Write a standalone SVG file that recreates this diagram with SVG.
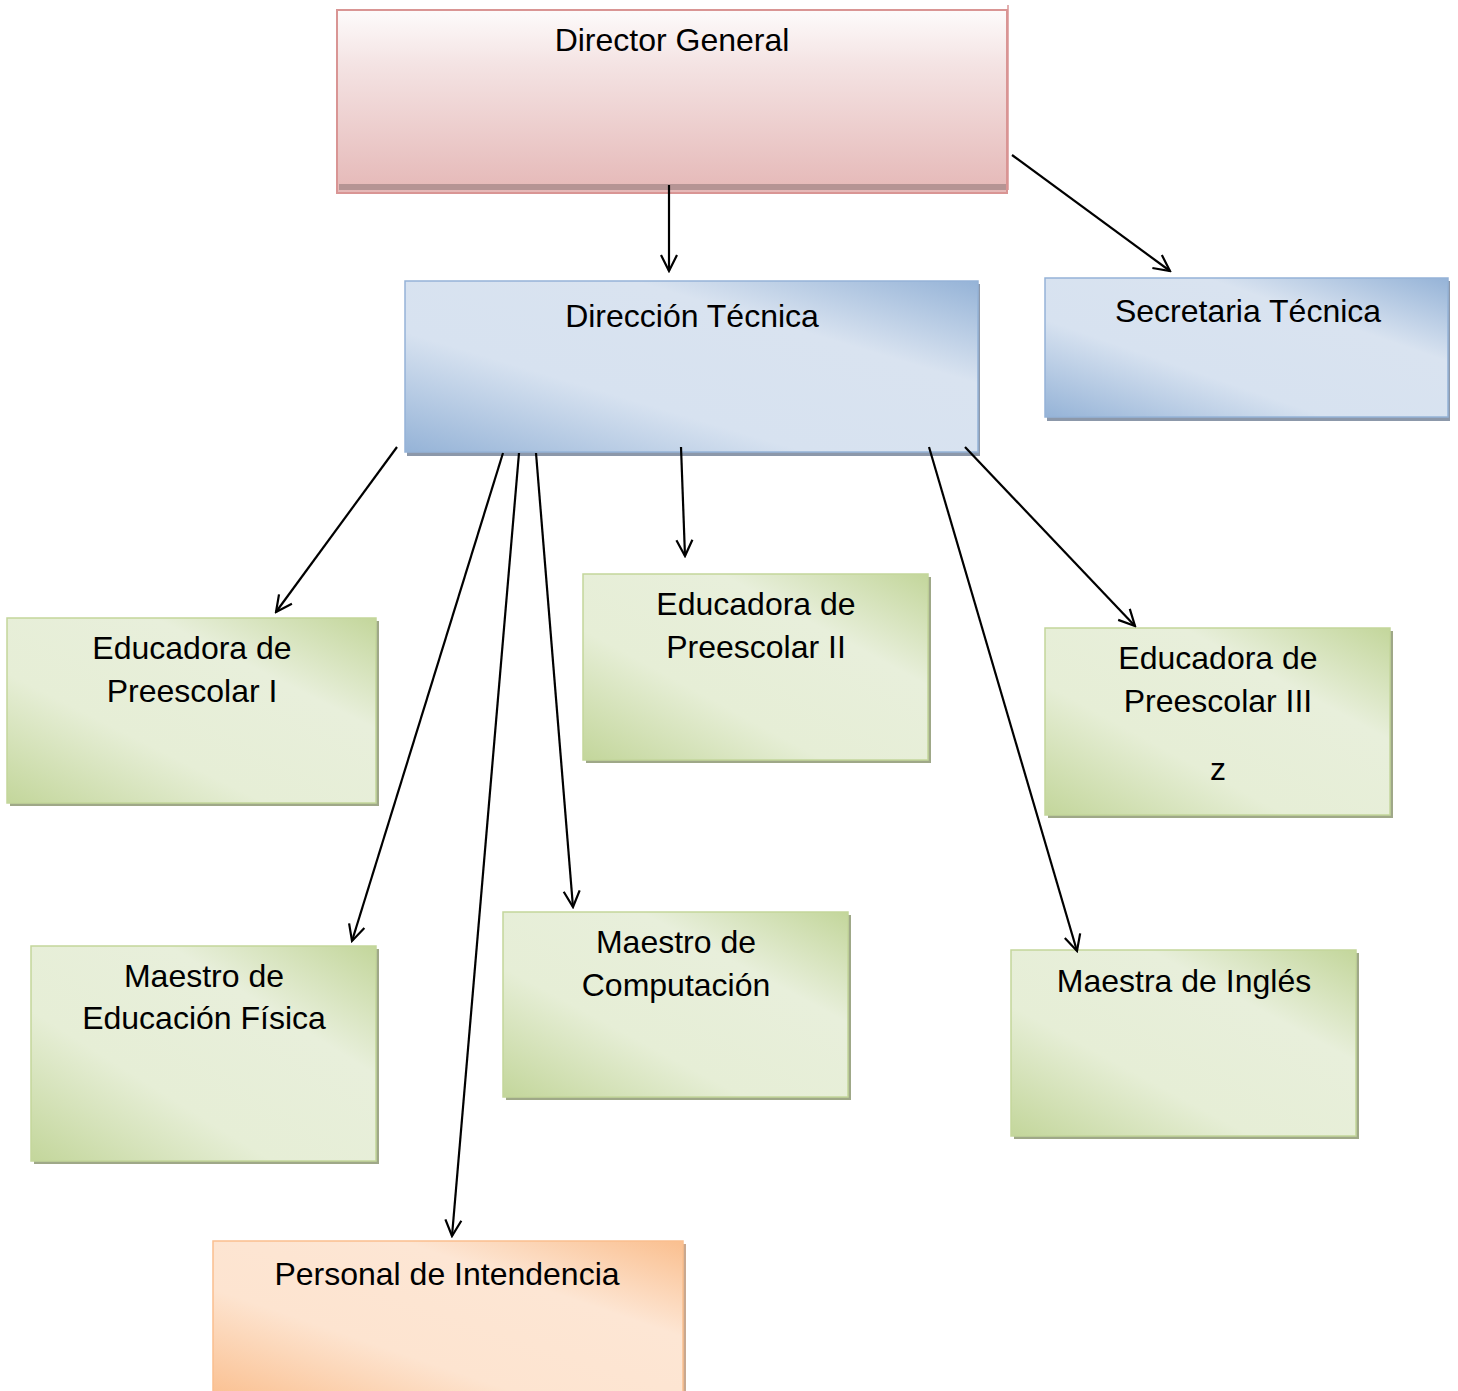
<svg xmlns="http://www.w3.org/2000/svg" width="1458" height="1391" viewBox="0 0 1458 1391">
<style>
.t{font-family:"Liberation Sans",Arial,sans-serif;font-size:32px;fill:#000;text-anchor:middle}
.con{stroke:#000;stroke-width:2.2;fill:none}
.gb{stroke:#c3d69b;stroke-width:1.5}
.bb{stroke:#95b3d7;stroke-width:1.5}
.ob{stroke:#fabf8f;stroke-width:1.5}
.gs{fill:#9fa888}
.bs{fill:#8c98aa}
.os{fill:#c9a88f}
</style>
<defs>
<linearGradient id="gG" x1="0" y1="1" x2="1" y2="0">
<stop offset="0" stop-color="#c3d69b"/>
<stop offset="0.35" stop-color="#e6eed6"/>
<stop offset="0.7" stop-color="#e8efdb"/>
<stop offset="1" stop-color="#c3d69b"/>
</linearGradient>
<linearGradient id="gB" x1="0" y1="1" x2="1" y2="0">
<stop offset="0" stop-color="#95b3d7"/>
<stop offset="0.35" stop-color="#d7e2f0"/>
<stop offset="0.7" stop-color="#d9e3f0"/>
<stop offset="1" stop-color="#95b3d7"/>
</linearGradient>
<linearGradient id="gO" x1="0" y1="1" x2="1" y2="0">
<stop offset="0" stop-color="#fabf8f"/>
<stop offset="0.35" stop-color="#fde4d0"/>
<stop offset="0.7" stop-color="#fde6d4"/>
<stop offset="1" stop-color="#fabf8f"/>
</linearGradient>
<linearGradient id="gP" x1="0" y1="0" x2="0" y2="1">
<stop offset="0" stop-color="#fdfbfb"/>
<stop offset="0.3" stop-color="#f4e3e3"/>
<stop offset="1" stop-color="#e5b8b7"/>
</linearGradient>
<marker id="ah" viewBox="0 0 20 20" refX="18" refY="10" markerWidth="20" markerHeight="20" markerUnits="userSpaceOnUse" orient="auto">
<path d="M2,2 L18,10 L2,18" fill="none" stroke="#000" stroke-width="2.2"/>
</marker>
</defs>

<g id="director-general">
<rect x="337" y="10" width="670" height="183" fill="url(#gP)" stroke="#d99594" stroke-width="2"/>
<rect x="339" y="184" width="667" height="6" fill="#b59494"/>
<line x1="1008" y1="5" x2="1008" y2="190" stroke="#d99594" stroke-width="1.5"/>
<text class="t" x="672" y="51">Director General</text>
</g>

<g id="direccion-tecnica">
<rect x="407" y="284" width="573" height="172" class="bs"/>
<rect x="405" y="281" width="573" height="171" fill="url(#gB)" class="bb"/>
<text class="t" x="692" y="327">Dirección Técnica</text>
</g>

<g id="secretaria-tecnica">
<rect x="1047" y="281" width="403" height="140" class="bs"/>
<rect x="1045" y="278" width="403" height="139" fill="url(#gB)" class="bb"/>
<text class="t" x="1248" y="322">Secretaria Técnica</text>
</g>

<g id="educadora-1">
<rect x="10" y="621" width="369" height="185" class="gs"/>
<rect x="7" y="618" width="369" height="185" fill="url(#gG)" class="gb"/>
<text class="t" x="192" y="659">Educadora de</text>
<text class="t" x="192" y="702">Preescolar I</text>
</g>

<g id="educadora-2">
<rect x="586" y="577" width="345" height="186" class="gs"/>
<rect x="583" y="574" width="345" height="186" fill="url(#gG)" class="gb"/>
<text class="t" x="756" y="615">Educadora de</text>
<text class="t" x="756" y="658">Preescolar II</text>
</g>

<g id="educadora-3">
<rect x="1048" y="631" width="345" height="187" class="gs"/>
<rect x="1045" y="628" width="345" height="187" fill="url(#gG)" class="gb"/>
<text class="t" x="1218" y="669">Educadora de</text>
<text class="t" x="1218" y="712">Preescolar III</text>
<text class="t" x="1218" y="780">z</text>
</g>

<g id="maestro-educacion-fisica">
<rect x="34" y="949" width="345" height="215" class="gs"/>
<rect x="31" y="946" width="345" height="215" fill="url(#gG)" class="gb"/>
<text class="t" x="204" y="987">Maestro de</text>
<text class="t" x="204" y="1029">Educación Física</text>
</g>

<g id="maestro-computacion">
<rect x="506" y="915" width="345" height="185" class="gs"/>
<rect x="503" y="912" width="345" height="185" fill="url(#gG)" class="gb"/>
<text class="t" x="676" y="953">Maestro de</text>
<text class="t" x="676" y="996">Computación</text>
</g>

<g id="maestra-ingles">
<rect x="1014" y="953" width="345" height="186" class="gs"/>
<rect x="1011" y="950" width="345" height="186" fill="url(#gG)" class="gb"/>
<text class="t" x="1184" y="992">Maestra de Inglés</text>
</g>

<g id="personal-intendencia">
<rect x="216" y="1244" width="470" height="160" class="os"/>
<rect x="213" y="1241" width="470" height="160" fill="url(#gO)" class="ob"/>
<text class="t" x="447" y="1285">Personal de Intendencia</text>
</g>

<g id="connectors">
<line class="con" x1="669" y1="185" x2="669" y2="271" marker-end="url(#ah)"/>
<line class="con" x1="1012" y1="155" x2="1170" y2="271" marker-end="url(#ah)"/>
<line class="con" x1="397" y1="447" x2="276" y2="612" marker-end="url(#ah)"/>
<line class="con" x1="503" y1="453" x2="352" y2="941" marker-end="url(#ah)"/>
<line class="con" x1="519" y1="453" x2="452" y2="1236" marker-end="url(#ah)"/>
<line class="con" x1="536" y1="453" x2="573" y2="907" marker-end="url(#ah)"/>
<line class="con" x1="681" y1="447" x2="685" y2="556" marker-end="url(#ah)"/>
<line class="con" x1="929" y1="447" x2="1077" y2="951" marker-end="url(#ah)"/>
<line class="con" x1="965" y1="447" x2="1135" y2="626" marker-end="url(#ah)"/>
</g>
</svg>
